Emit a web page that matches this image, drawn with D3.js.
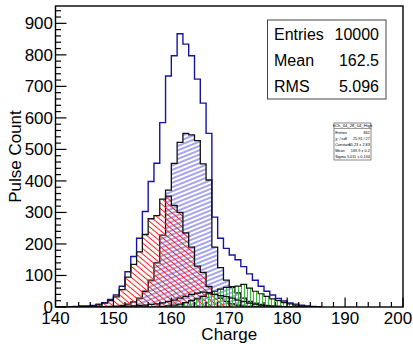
<!DOCTYPE html>
<html>
<head>
<meta charset="utf-8">
<script src="https://cdn.jsdelivr.net/npm/d3@7"></script>
<style>
  body { margin: 0; background: #fff; }
  svg text { font-family: 'Liberation Sans', Arial, Helvetica, sans-serif; }
</style>
</head>
<body>
<div id="chart"></div>
<script>
const width = 413;
const height = 344;
const frame = { left: 55.5, right: 403, top: 6, bottom: 307 };

// bin low edges (bin width 1)
const binLow = [
  140, 141, 142, 143, 144, 145, 146, 147, 148, 149,
  150, 151, 152, 153, 154, 155, 156, 157, 158, 159,
  160, 161, 162, 163, 164, 165, 166, 167, 168, 169,
  170, 171, 172, 173, 174, 175, 176, 177, 178, 179,
  180, 181, 182, 183, 184, 185
];

// total (blue outline)
const totalCounts = [
  0, 1, 1, 2, 3, 3, 5, 9, 14, 24,
  38, 66, 112, 160, 218, 303, 398, 456, 585, 733,
  797, 867, 834, 797, 723, 647, 551, 285, 218, 186,
  165, 150, 128, 105, 85, 66, 50, 38, 27, 19,
  13, 9, 6, 3, 2, 1
];

// blue hatched component
const blueCounts = [
  0, 0, 0, 0, 0, 0, 0, 1, 1, 2,
  3, 5, 9, 16, 28, 50, 85, 140, 228, 371,
  456, 522, 551, 546, 528, 454, 403, 190, 125, 85,
  62, 45, 28, 18, 12, 8, 5, 3, 2, 1,
  0, 0, 0, 0, 0, 0
];

// red hatched component
const redCounts = [
  0, 0, 1, 1, 2, 2, 4, 7, 12, 20,
  32, 55, 95, 135, 175, 230, 280, 290, 342, 352,
  322, 300, 235, 190, 130, 110, 65, 40, 28, 18,
  10, 6, 3, 2, 1, 0, 0, 0, 0, 0,
  0, 0, 0, 0, 0, 0
];

// green hatched component (hCh_04_28_04_High)
const greenCounts = [
  0, 0, 0, 0, 0, 0, 0, 0, 0, 0,
  0, 0, 0, 0, 0, 0, 0, 0, 2, 4,
  6, 9, 14, 20, 26, 34, 42, 50, 57, 62,
  65, 66, 72, 60, 50, 42, 34, 26, 20, 14,
  10, 6, 4, 2, 0, 0
];

// black outline, no fill
const blackCounts = [
  0, 0, 0, 0, 0, 0, 0, 0, 0, 0,
  1, 2, 3, 4, 5, 6, 8, 10, 13, 17,
  22, 28, 34, 40, 44, 47, 46, 40, 36, 33,
  28, 22, 17, 12, 9, 6, 4, 3, 2, 1,
  0, 0, 0, 0, 0, 0
];

const xTicks = [140, 150, 160, 170, 180, 190, 200];
const yTicks = [0, 100, 200, 300, 400, 500, 600, 700, 800, 900];

const statsRows = [['Entries', '10000'], ['Mean', '162.5'], ['RMS', '5.096']];
const fitTitle = 'hCh_04_28_04_High';
const fitRows = [
  ['Entries', '841'],
  ['\u03c7\u00b2 / ndf', '25.91 / 27'],
  ['Constant', '65.23 \u00b1 2.83'],
  ['Mean', '169.9 \u00b1 0.2'],
  ['Sigma', '5.011 \u00b1 0.134']
];

const svg = d3.select('#chart').append('svg')
  .attr('width', width)
  .attr('height', height);

svg.append('rect').attr('width', width).attr('height', height).attr('fill', '#fff');

const x = d3.scaleLinear().domain([140, 200]).range([frame.left, frame.right]);
const y = d3.scaleLinear().domain([0, 955]).range([frame.bottom, frame.top]);

const defs = svg.append('defs');

function hatch(id, spacing, angle, color) {
  const p = defs.append('pattern')
    .attr('id', id)
    .attr('patternUnits', 'userSpaceOnUse')
    .attr('width', 20)
    .attr('height', spacing)
    .attr('patternTransform', `rotate(${angle})`);
  p.append('line')
    .attr('x1', 0).attr('x2', 20)
    .attr('y1', spacing / 2).attr('y2', spacing / 2)
    .attr('stroke', color)
    .attr('stroke-width', 1);
}
hatch('hBlue', 4, -22, '#4a4ae0');
hatch('hRed', 4.2, 40, '#ff1a1a');
hatch('hGreen', 3, 90, '#33c033');

defs.append('clipPath').attr('id', 'frameClip')
  .append('rect')
  .attr('x', frame.left).attr('y', frame.top)
  .attr('width', frame.right - frame.left)
  .attr('height', frame.bottom - frame.top);

const plot = svg.append('g').attr('clip-path', 'url(#frameClip)');

function stepPoints(counts) {
  const pts = [[x(binLow[0]), y(0)]];
  counts.forEach((c, i) => {
    pts.push([x(binLow[i]), y(c)]);
    pts.push([x(binLow[i] + 1), y(c)]);
  });
  pts.push([x(binLow[binLow.length - 1] + 1), y(0)]);
  return pts;
}

const line = d3.line();

function drawHist(counts, fill, stroke, strokeWidth) {
  const pts = stepPoints(counts);
  if (fill) {
    plot.append('path')
      .attr('d', line(pts) + 'Z')
      .attr('fill', fill)
      .attr('stroke', 'none');
  }
  plot.append('path')
    .attr('d', line(pts))
    .attr('fill', 'none')
    .attr('stroke', stroke)
    .attr('stroke-width', strokeWidth)
    .attr('stroke-linejoin', 'miter');
}

drawHist(totalCounts, null, '#1414a0', 1.4);
drawHist(blueCounts, 'url(#hBlue)', '#111', 1.3);
drawHist(redCounts, 'url(#hRed)', '#111', 1.3);
drawHist(greenCounts, 'url(#hGreen)', '#111', 1.2);
drawHist(blackCounts, null, '#111', 1.2);

// frame
svg.append('rect')
  .attr('x', frame.left).attr('y', frame.top)
  .attr('width', frame.right - frame.left)
  .attr('height', frame.bottom - frame.top)
  .attr('fill', 'none')
  .attr('stroke', '#000')
  .attr('stroke-width', 1.4);

// y axis ticks (inside the frame, ROOT style)
const yMinor = d3.range(0, 955, 20);
svg.append('g').selectAll('line')
  .data(yMinor)
  .join('line')
  .attr('x1', frame.left)
  .attr('x2', d => frame.left + (d % 100 === 0 ? 11 : 5.5))
  .attr('y1', d => y(d)).attr('y2', d => y(d))
  .attr('stroke', '#000').attr('stroke-width', 1.2);

svg.append('g').selectAll('text')
  .data(yTicks)
  .join('text')
  .attr('x', 53)
  .attr('y', d => y(d) + 6)
  .attr('text-anchor', 'end')
  .attr('font-size', 17)
  .text(d => d);

const xMinor = d3.range(140, 201, 2);
svg.append('g').selectAll('line')
  .data(xMinor)
  .join('line')
  .attr('x1', d => x(d)).attr('x2', d => x(d))
  .attr('y1', frame.bottom)
  .attr('y2', d => frame.bottom - (d % 10 === 0 ? 9.5 : 5))
  .attr('stroke', '#000').attr('stroke-width', 1.2);

// last label is pulled inside the canvas, as ROOT does
svg.append('g').selectAll('text')
  .data(xTicks)
  .join('text')
  .attr('x', d => Math.min(x(d), width - 15))
  .attr('y', 323.5)
  .attr('text-anchor', 'middle')
  .attr('font-size', 17)
  .text(d => d);

svg.append('text')
  .attr('x', (frame.left + frame.right) / 2)
  .attr('y', 339.5)
  .attr('text-anchor', 'middle')
  .attr('font-size', 17)
  .text('Charge');

svg.append('text')
  .attr('transform', `translate(21, ${(frame.top + frame.bottom) / 2}) rotate(-90)`)
  .attr('text-anchor', 'middle')
  .attr('font-size', 17)
  .text('Pulse Count');

// main stats box
const sb = { x: 267.5, y: 20, w: 118.5, h: 79 };
svg.append('rect')
  .attr('x', sb.x).attr('y', sb.y).attr('width', sb.w).attr('height', sb.h)
  .attr('fill', '#fff').attr('stroke', '#444').attr('stroke-width', 1);
const sg = svg.append('g');
statsRows.forEach((r, i) => {
  const ty = sb.y + 19.5 + i * 26;
  sg.append('text').attr('x', sb.x + 6.5).attr('y', ty).attr('font-size', 16).text(r[0]);
  sg.append('text').attr('x', sb.x + sb.w - 7).attr('y', ty).attr('text-anchor', 'end')
    .attr('font-size', 16).text(r[1]);
});

// fit stats box
const fb = { x: 334, y: 123, w: 37, h: 37 };
svg.append('rect')
  .attr('x', fb.x).attr('y', fb.y).attr('width', fb.w).attr('height', fb.h)
  .attr('fill', '#fff').attr('stroke', '#555').attr('stroke-width', 0.7);
svg.append('line')
  .attr('x1', fb.x).attr('x2', fb.x + fb.w)
  .attr('y1', fb.y + 5.5).attr('y2', fb.y + 5.5)
  .attr('stroke', '#555').attr('stroke-width', 0.6);
svg.append('text')
  .attr('x', fb.x + fb.w / 2).attr('y', fb.y + 4.2)
  .attr('text-anchor', 'middle').attr('font-size', 4.2)
  .text(fitTitle);
fitRows.forEach((r, i) => {
  const ty = fb.y + 10.5 + i * 6;
  svg.append('text').attr('x', fb.x + 1.2).attr('y', ty).attr('font-size', 3.8).text(r[0]);
  svg.append('text').attr('x', fb.x + fb.w - 1.2).attr('y', ty).attr('text-anchor', 'end')
    .attr('font-size', 3.8).text(r[1]);
});
</script>
</body>
</html>
